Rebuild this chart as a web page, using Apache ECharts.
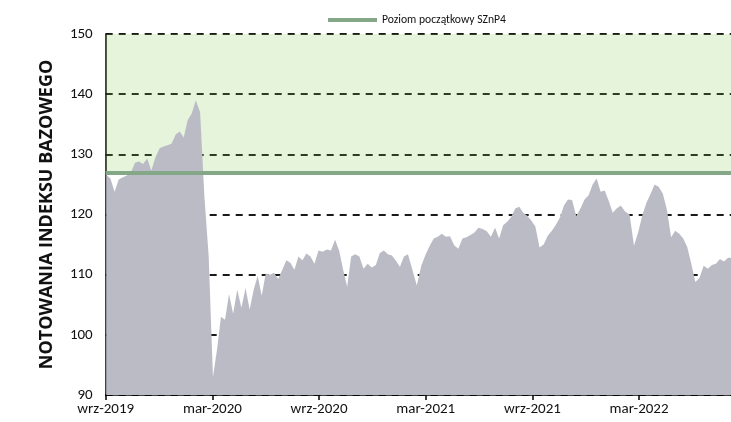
<!DOCTYPE html>
<html>
<head>
<meta charset="utf-8">
<script src="https://cdn.jsdelivr.net/npm/echarts@6/dist/echarts.min.js"></script>
<style>
html,body{margin:0;padding:0;background:#fff;}
#chart{width:731px;height:422px;}
</style>
</head>
<body>
<div id="chart"></div>
<script>
// ---- data ----
const firstWeek = '2019-09-02';
const weeklyValues = [
  126.6, 126.0, 123.8, 125.8, 126.2, 126.5, 127.0, 128.6, 128.8, 128.4,
  129.3, 127.3, 129.5, 131.0, 131.3, 131.5, 131.8, 133.3, 133.8, 132.8,
  135.7, 136.8, 139.0, 137.0, 123.0, 113.0, 93.0, 97.5, 103.0, 102.5,
  106.8, 103.5, 107.5, 104.5, 107.8, 104.2, 107.5, 109.8, 106.5, 110.2,
  110.0, 110.3, 109.3, 110.8, 112.4, 112.0, 110.8, 113.0, 112.4, 113.5,
  113.0, 111.8, 114.0, 113.8, 114.2, 114.0, 115.8, 114.0, 110.8, 108.0,
  113.0, 113.4, 113.0, 111.0, 111.8, 111.2, 111.6, 113.6, 114.0, 113.4,
  113.2, 112.3, 111.3, 113.0, 113.4, 110.8, 108.2, 111.5, 113.4, 114.8,
  116.0, 116.3, 116.8, 116.3, 116.4, 114.9, 114.3, 116.0, 116.2, 116.6,
  117.0, 117.8, 117.6, 117.2, 116.3, 117.8, 116.0, 118.2, 118.8, 119.6,
  121.0, 121.3, 120.3, 119.8, 119.0, 118.0, 114.5, 115.0, 116.5, 117.3,
  118.3, 119.5, 121.5, 122.5, 122.4, 119.7, 121.0, 122.5, 123.2, 125.0,
  126.0, 123.8, 124.0, 122.3, 120.3, 121.0, 121.5, 120.5, 120.0, 114.8,
  117.2, 120.0, 122.0, 123.4, 125.0, 124.6, 123.5, 120.8, 116.2, 117.3,
  116.8, 116.0, 114.6, 111.8, 108.8, 109.5, 111.5, 111.0, 111.6, 111.8,
  112.6, 112.2, 112.8, 112.8
];
const initialLevel = 126.9;
const seriesIndexName = 'Indeks bazowy';
const seriesLevelName = 'Poziom początkowy SZnP4';
const tickLabels = ['wrz-2019', 'mar-2020', 'wrz-2020', 'mar-2021', 'wrz-2021', 'mar-2022'];
const yTicks = [90, 100, 110, 120, 130, 140, 150];
const yAxisTitle = 'NOTOWANIA INDEKSU BAZOWEGO';
const axisStartYear = 2019, axisStartMonth = 8; // wrz-2019 (0-based month)
const axisEndMonths = 35.17;

// ---- helpers ----
function monthsSinceStart(d) {
  const y = d.getUTCFullYear(), m = d.getUTCMonth(), day = d.getUTCDate();
  const dim = new Date(Date.UTC(y, m + 1, 0)).getUTCDate();
  return (y - axisStartYear) * 12 + (m - axisStartMonth) + (day - 1) / dim;
}
const start = new Date(firstWeek + 'T00:00:00Z');
const indexData = weeklyValues.map((v, i) => {
  const d = new Date(start.getTime() + i * 7 * 86400000);
  return [monthsSinceStart(d), v];
});
const levelData = [[0, initialLevel], [axisEndMonths, initialLevel]];

const FONT = 'Carlito, "Open Sans", sans-serif';
const chart = echarts.init(document.getElementById('chart'), null, {renderer: 'canvas'});
chart.setOption({
  animation: false,
  backgroundColor: '#ffffff',
  grid: {left: 105.7, right: 0, top: 34, bottom: 27, containLabel: false},
  legend: {
    data: [{name: seriesLevelName, icon: 'rect'}],
    top: 9, left: 323,
    itemWidth: 49, itemHeight: 4, itemGap: 6,
    textStyle: {fontFamily: FONT, fontSize: 11.6, color: '#111'}
  },
  xAxis: {
    type: 'value', min: 0, max: axisEndMonths, interval: 6,
    axisLine: {show: true, lineStyle: {color: '#000', width: 1.5}},
    axisTick: {show: true, length: 5, lineStyle: {color: '#000', width: 1.5}},
    splitLine: {show: false},
    axisLabel: {
      fontFamily: FONT, fontSize: 15, color: '#111', margin: 7, showMaxLabel: false,
      formatter: v => {
        const k = Math.round(v / 6);
        return Math.abs(v - k * 6) < 1e-6 && tickLabels[k] ? tickLabels[k] : '';
      }
    }
  },
  yAxis: {
    type: 'value', min: yTicks[0], max: yTicks[yTicks.length - 1], interval: 10,
    name: yAxisTitle, nameLocation: 'middle', nameRotate: 90, nameGap: 50,
    nameTextStyle: {fontFamily: '"Open Sans", sans-serif', fontSize: 18, fontWeight: 'bold', color: '#111'},
    axisLine: {show: true, lineStyle: {color: '#000', width: 1.5}},
    axisTick: {show: false},
    axisLabel: {fontFamily: FONT, fontSize: 15, color: '#111', margin: 13},
    splitLine: {show: true, lineStyle: {color: '#1a1a1a', width: 1.8, type: [7, 6]}}
  },
  series: [
    {
      name: seriesIndexName, type: 'line', data: indexData, z: 2,
      showSymbol: false, symbol: 'none',
      lineStyle: {width: 0, color: '#bbbbc6'},
      itemStyle: {color: '#bbbbc6'},
      areaStyle: {color: '#bbbbc6', opacity: 1, origin: 'start'}
    },
    {
      name: seriesLevelName, type: 'line', data: levelData, z: 3,
      showSymbol: false, symbol: 'none',
      lineStyle: {width: 4, color: '#84a887'},
      itemStyle: {color: '#84a887'},
      markArea: {
        silent: true,
        itemStyle: {color: 'rgba(130,200,80,0.2)'},
        data: [[{yAxis: initialLevel}, {yAxis: 150}]]
      }
    }
  ]
});
</script>
</body>
</html>
